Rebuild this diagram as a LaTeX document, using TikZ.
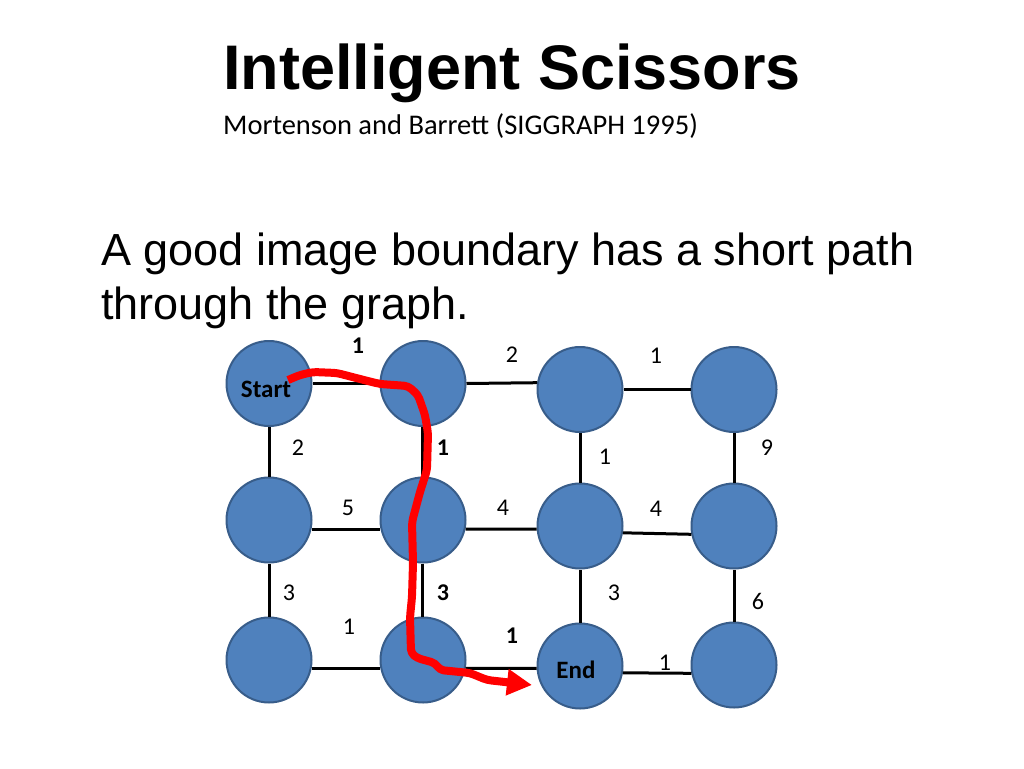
\documentclass[tikz,border=0pt]{standalone}
\usepackage{fontspec}
\setmainfont{Liberation Sans}
\newfontfamily\calfont{Carlito}
\usetikzlibrary{arrows.meta}
\definecolor{nodefill}{HTML}{4F81BD}
\definecolor{nodeline}{HTML}{385D8A}
\definecolor{pathred}{HTML}{FF0000}
\begin{document}
\begin{tikzpicture}[x=1pt,y=-1pt,
  gnode/.style={circle,fill=nodefill,draw=nodeline,line width=2pt,minimum size=85pt,inner sep=0pt},
  gedge/.style={draw=black,line width=3pt},
  wlabel/.style={anchor=base,inner sep=0pt,font=\calfont\fontsize{24}{24}\selectfont},
  blabel/.style={wlabel,font=\calfont\bfseries\fontsize{24}{24}\selectfont},
  nlabel/.style={anchor=base,inner sep=0pt,font=\calfont\bfseries\fontsize{25}{25}\selectfont},
  redpath/.style={draw=pathred,line width=8pt,rounded corners=4pt,line join=round,-{Triangle[length=25pt,width=25pt]}}
]
\useasboundingbox (0,0) rectangle (1024,768);
\fill[white] (0,0) rectangle (1024,768);

% texts
\node[anchor=base west,inner sep=0pt,font=\bfseries\fontsize{63}{63}\selectfont] (title) at (223,89) {Intelligent Scissors};
\node[anchor=base west,inner sep=0pt,font=\calfont\fontsize{28.5}{28.5}\selectfont] (subtitle) at (223,134) {Mortenson and Barrett (SIGGRAPH 1995)};
\node[anchor=base west,inner sep=0pt,font=\fontsize{45}{45}\selectfont] (body1) at (101,265) {A good image boundary has a short path};
\node[anchor=base west,inner sep=0pt,font=\fontsize{45}{45}\selectfont] (body2) at (101,319) {through the graph.};

% nodes
\node[gnode] (a1) at (269,383.5) {};
\node[gnode] (a2) at (423,383.5) {};
\node[gnode] (a3) at (580,389.5) {};
\node[gnode] (a4) at (734,389.5) {};
\node[gnode] (b1) at (269,520) {};
\node[gnode] (b2) at (423,520) {};
\node[gnode] (b3) at (580,526) {};
\node[gnode] (b4) at (734,526) {};
\node[gnode] (c1) at (269,660) {};
\node[gnode] (c2) at (423,660) {};
\node[gnode] (c3) at (580,666) {};
\node[gnode] (c4) at (734,665) {};

% edges
\draw[gedge] (a1.east) -- (a2.west);
\draw[gedge] (a2.east) -- (a3.171);
\draw[gedge] (a3.east) -- (a4.west);
\draw[gedge] (b1.-12) -- (b2.192);
\draw[gedge] (b2.-12) -- (b3.184);
\draw[gedge] (b3.-9) -- (b4.191);
\draw[gedge] (c1.-11) -- (c2.191);
\draw[gedge] (c2.-11) -- (c3.183);
\draw[gedge] (c3.-9) -- (c4.191);
\draw[gedge] (a1.south) -- (b1.north);
\draw[gedge] (b1.south) -- (c1.north);
\draw[gedge] (a2.-91) -- (b2.91);
\draw[gedge] (b2.-91) -- (c2.91);
\draw[gedge] (a3.south) -- (b3.north);
\draw[gedge] (b3.south) -- (c3.north);
\draw[gedge] (a4.south) -- (b4.north);
\draw[gedge] (b4.south) -- (c4.north);

% node texts
\node[nlabel] (tstart) at (266,397) {Start};
\node[nlabel] (tend) at (576,678) {End};

% edge labels
\node[blabel] (l1) at (358,353.5) {1};
\node[wlabel] (l2) at (512,362.5) {2};
\node[wlabel] (l3) at (656,363.5) {1};
\node[wlabel] (l4) at (298,455.5) {2};
\node[blabel] (l5) at (443,455.5) {1};
\node[wlabel] (l6) at (605,464.5) {1};
\node[wlabel] (l7) at (767,455.5) {9};
\node[wlabel] (l8) at (348,515.5) {5};
\node[wlabel] (l9) at (503,515.5) {4};
\node[wlabel] (l10) at (656,516.5) {4};
\node[wlabel] (l11) at (289,600.5) {3};
\node[blabel] (l12) at (443,600.5) {3};
\node[wlabel] (l13) at (614,600.5) {3};
\node[wlabel] (l14) at (758,609.5) {6};
\node[wlabel] (l15) at (349,634.5) {1};
\node[blabel] (l16) at (512,643.5) {1};
\node[wlabel] (l17) at (665,670.5) {1};

% red path
\coordinate (pstart) at (288,380);
\coordinate (pend) at (532,685);
\draw[redpath] (pstart) -- (300,375) -- (313,372) -- (337,373) -- (360,379) -- (380,384)
  -- (408,386) -- (418,395) -- (425,415) -- (428,433) -- (427,470) -- (420,492)
  -- (412,522) -- (413,563) -- (412,597) -- (410,617) -- (411,653) -- (417,658)
  -- (435,663) -- (440,670) -- (470,673) -- (487,680) -- (pend);
\end{tikzpicture}
\end{document}
